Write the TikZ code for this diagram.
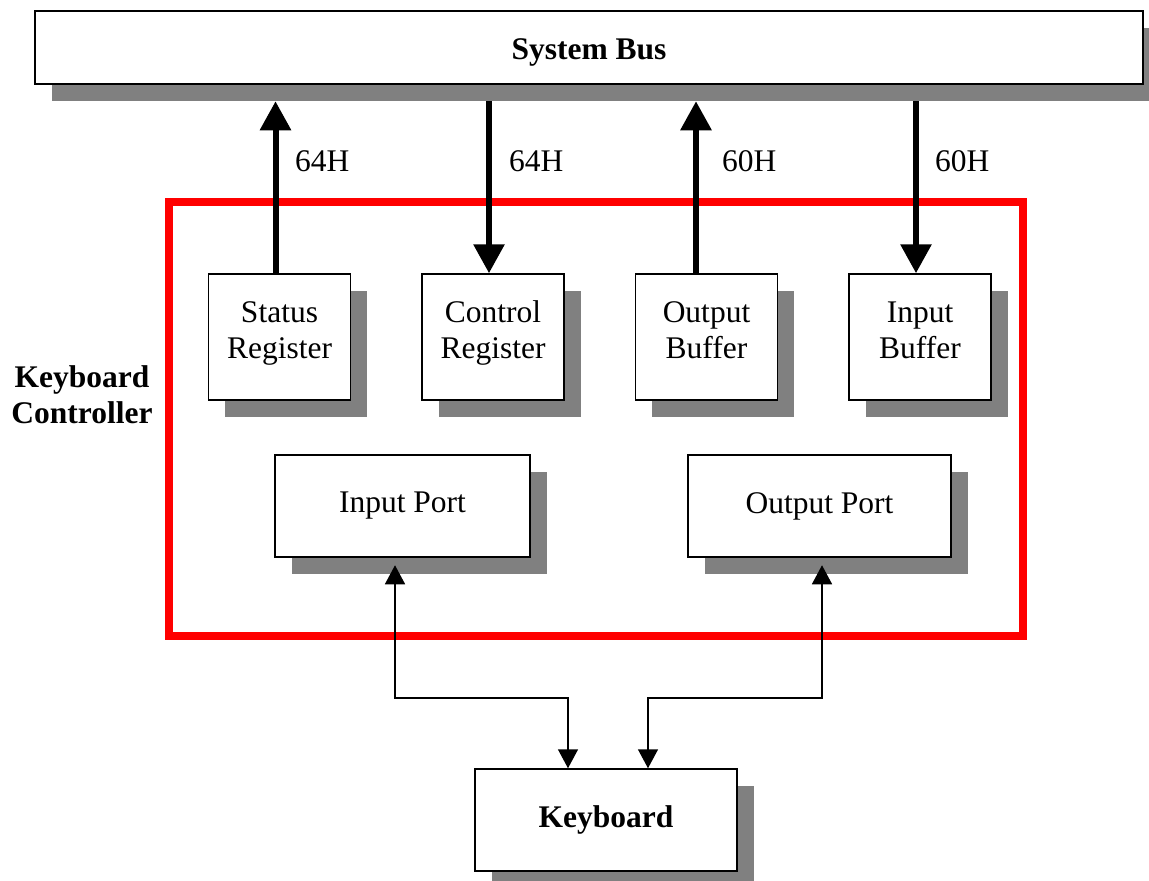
\documentclass[tikz,border=0pt]{standalone}
\usepackage{fontspec}
\setmainfont{Liberation Serif}
\usetikzlibrary{arrows.meta,shadows,calc}
\definecolor{shadowgray}{RGB}{128,128,128}
\newcommand\topst{\rule{0pt}{21pt}}
\newcommand\botst{\rule[-15pt]{0pt}{15pt}}
\begin{document}
\begin{tikzpicture}[x=1pt,y=-1pt,
  every node/.style={font=\fontsize{31.5}{36}\selectfont},
  bold/.style={font=\fontsize{31.5}{36}\selectfont\bfseries},
  box/.style={draw=black, line width=1.5pt, fill=white, inner sep=0pt, align=center,
    drop shadow={shadow xshift=16.5pt, shadow yshift=-16.5pt, fill=shadowgray, opacity=1}},
  regbox/.style={box, minimum width=142pt, minimum height=126pt},
  portbox/.style={box, minimum height=102pt},
  thickarrow/.style={line width=6pt, -{Triangle[length=29pt,width=30pt]}},
  thinarrow/.style={line width=1.5pt, {Triangle[length=19pt,width=20pt]}-{Triangle[length=19pt,width=20pt]}},
  lbl/.style={anchor=base west, inner sep=0pt}]

\useasboundingbox (0,0) rectangle (1149,881);

% Keyboard controller frame
\node[draw=red, line width=7.5pt, minimum width=854pt, minimum height=434pt, inner sep=0pt] (kc) at (596,419) {};
\node[bold, align=center, inner sep=0pt] (kclabel) at (82,395) {Keyboard\\Controller};

% System bus
\node[box, bold, minimum width=1108pt, minimum height=73pt, text height=23pt, text depth=0pt] (bus) at (589,47.5) {System Bus};

% Registers and buffers
\node[regbox] (status)  at (279.5,337) {\topst Status\\Register\botst};
\node[regbox] (control) at (493,337)   {\topst Control\\Register\botst};
\node[regbox] (outbuf)  at (706.5,337) {\topst Output\\Buffer\botst};
\node[regbox] (inbuf)   at (920,337)   {\topst Input\\Buffer\botst};

% Ports
\node[portbox, minimum width=255pt] (inport)  at (402.5,506) {Input Port};
\node[portbox, minimum width=263pt] (outport) at (819.5,506) {Output Port};

% Keyboard
\node[portbox, bold, minimum width=262pt] (keyboard) at (606,820) {Keyboard};

% thick arrows to/from the bus
\path ([yshift=-16.5pt]bus.south) coordinate (busb);
\coordinate (a1) at (275.5,0);
\coordinate (a2) at (489,0);
\coordinate (a3) at (696,0);
\coordinate (a4) at (916,0);
\draw[thickarrow] (status.north -| a1) -- (busb -| a1);
\draw[thickarrow] (busb -| a2) -- (control.north -| a2);
\draw[thickarrow] (outbuf.north -| a3) -- (busb -| a3);
\draw[thickarrow] (busb -| a4) -- (inbuf.north -| a4);

\node[lbl] (l1) at (295,171) {64H};
\node[lbl] (l2) at (509,171) {64H};
\node[lbl] (l3) at (722,171) {60H};
\node[lbl] (l4) at (935,171) {60H};

% thin arrows between ports and keyboard
\coordinate (c1) at (395,698);
\coordinate (k1) at (568,698);
\coordinate (k2) at (648,698);
\coordinate (c2) at (822,698);
\draw[thinarrow] ($(inport.south -| c1)+(0,7.5)$) -- (c1) -- (k1) -- (keyboard.north -| k1);
\draw[thinarrow] ($(outport.south -| c2)+(0,7.5)$) -- (c2) -- (k2) -- (keyboard.north -| k2);
\end{tikzpicture}
\end{document}
